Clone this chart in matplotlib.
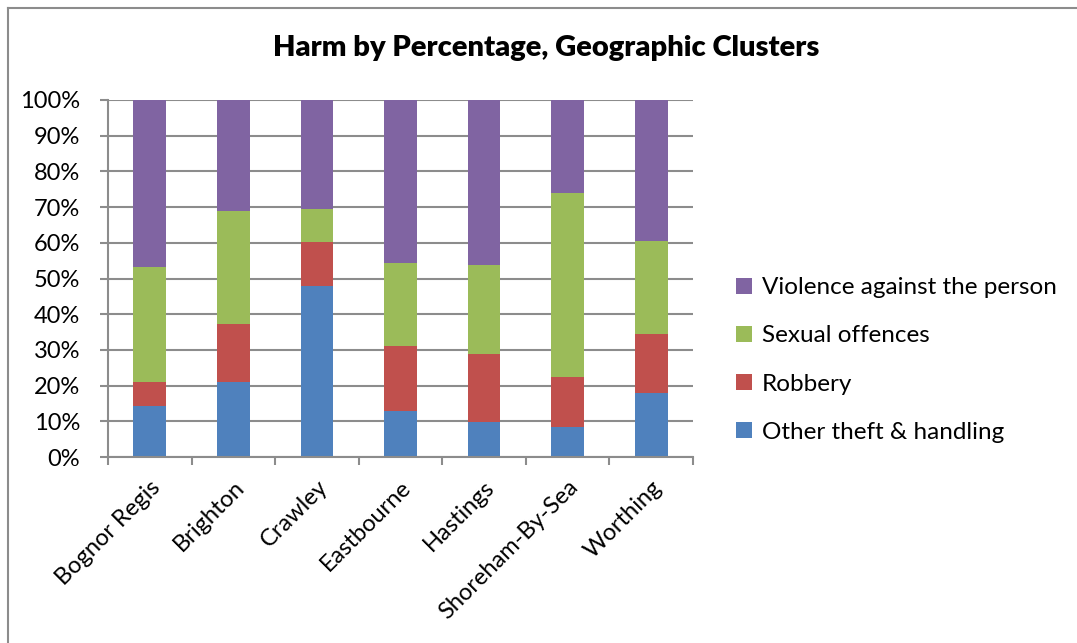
import matplotlib
matplotlib.use("Agg")
import matplotlib.pyplot as plt
from matplotlib.lines import Line2D
from matplotlib.ticker import FixedLocator, PercentFormatter
import numpy as np

# Data: share of harm by offence type, per geographic cluster (percent)
clusters = ["Bognor Regis", "Brighton", "Crawley", "Eastbourne",
            "Hastings", "Shoreham-By-Sea", "Worthing"]
other_theft = [14.2, 20.9, 48.0, 13.0, 9.7, 8.4, 17.8]
robbery = [6.7, 16.3, 12.3, 18.1, 19.1, 14.0, 16.6]
sexual_offences = [32.3, 31.7, 9.1, 23.2, 24.9, 51.5, 26.0]
violence = [46.8, 31.1, 30.6, 45.7, 46.3, 26.1, 39.6]

series_names = ["Other theft & handling", "Robbery",
                "Sexual offences", "Violence against the person"]
series_values = [other_theft, robbery, sexual_offences, violence]
series_colors = ["#4F81BD", "#C0504D", "#9BBB59", "#8064A2"]

FONT = "Lato"
GRID = "#8C8C8C"
TXT = 17

W, H = 1077, 643
fig = plt.figure(figsize=(W / 100, H / 100), dpi=100)
fig.patch.set_facecolor("white")

# Chart frame (left and top edges)
fig.add_artist(Line2D([7.5 / W, 7.5 / W], [0, 1 - 8 / H],
                      transform=fig.transFigure, color="#8C8C8C", lw=1.5))
fig.add_artist(Line2D([7.5 / W, 1], [1 - 8 / H, 1 - 8 / H],
                      transform=fig.transFigure, color="#8C8C8C", lw=1.5))

# Plot area in pixel terms
left, right, top, bottom = 108, 693, 100, 457
ax = fig.add_axes([left / W, 1 - bottom / H, (right - left) / W, (bottom - top) / H])

x = np.arange(len(clusters))
base = np.zeros(len(clusters))
bars = []
for name, vals, col in zip(series_names, series_values, series_colors):
    b = ax.bar(x, vals, width=0.39, bottom=base, color=col, label=name,
               edgecolor="none", zorder=3)
    bars.append(b)
    base = base + np.array(vals)

ax.set_xlim(-0.5, len(clusters) - 0.5)
ax.set_ylim(0, 100)

ax.yaxis.set_major_locator(FixedLocator(np.arange(0, 101, 10)))
ax.yaxis.set_major_formatter(PercentFormatter(decimals=0))
ax.yaxis.grid(True, color=GRID, lw=1.5, zorder=0)
ax.set_axisbelow(True)

ax.set_xticks(x)
ax.set_xticklabels(clusters, rotation=45, ha="right", rotation_mode="anchor",
                   fontsize=TXT, family=FONT)
ax.set_xticks(np.arange(-0.5, len(clusters)), minor=True)
ax.tick_params(axis="x", which="major", length=0, pad=14)
ax.tick_params(axis="x", which="minor", length=6, width=1.5, color=GRID)
ax.tick_params(axis="y", length=6, width=1.5, color=GRID, pad=14)
for lbl in ax.get_yticklabels():
    lbl.set_fontsize(TXT)
    lbl.set_family(FONT)

for s in ["top", "right"]:
    ax.spines[s].set_visible(False)
for s in ["left", "bottom"]:
    ax.spines[s].set_color(GRID)
    ax.spines[s].set_linewidth(1.5)
    ax.spines[s].set_zorder(4)

fig.text(546 / W, 1 - 48 / H, "Harm by Percentage, Geographic Clusters",
         ha="center", va="center", fontsize=21, fontweight="heavy", family=FONT)

handles = [b.patches[0] for b in bars][::-1]
labels = series_names[::-1]
leg = fig.legend(handles, labels, loc="center left",
                 bbox_to_anchor=(736 / W, 1 - 360 / H), frameon=False,
                 borderpad=0, borderaxespad=0,
                 prop={"family": FONT, "size": 17.5}, handlelength=0.65,
                 handleheight=0.65, handletextpad=0.4, labelspacing=1.12)

fig.savefig("out.png", dpi=100, facecolor="white")
